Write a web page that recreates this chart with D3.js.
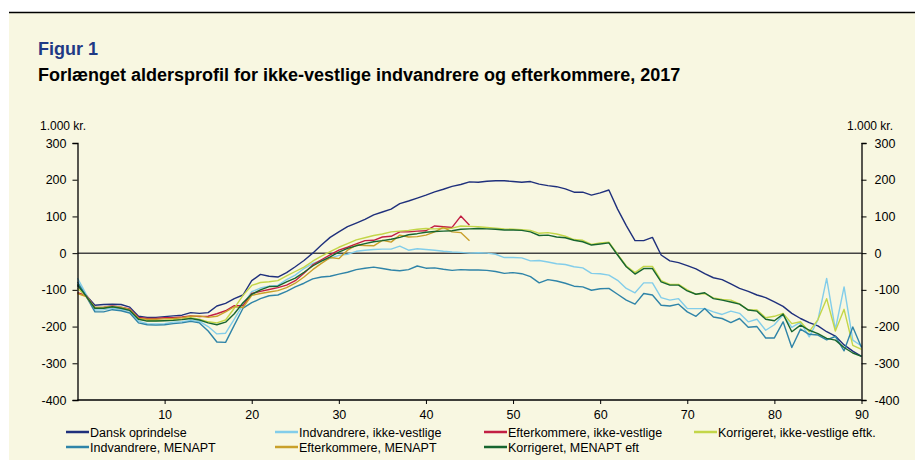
<!DOCTYPE html>
<html><head><meta charset="utf-8">
<script src="https://cdn.jsdelivr.net/npm/d3@7"></script>
<style>
html,body{margin:0;padding:0;background:#fff;}
svg{display:block;font-family:"Liberation Sans",Arial,sans-serif;}
</style></head>
<body>
<svg id="chart" width="915" height="468"></svg>
<script>
const ages = d3.range(0, 91);
const xTicks = [10, 20, 30, 40, 50, 60, 70, 80, 90];
const yTicks = [300, 200, 100, 0, -100, -200, -300, -400];

const danskOprindelse = [-88,-115,-142,-140,-139,-140,-147,-172,-175,-175,-173,-171,-169,-162,-164,-162,-144,-137,-124,-114,-75,-58,-63,-65,-53,-37,-20,0,22,43,58,72,82,92,104,112,120,135,142,150,158,167,174,182,187,194,193,196,197,197,195,193,195,188,184,181,175,166,166,158,164,172,120,75,34,34,43,-5,-21,-26,-34,-43,-56,-67,-72,-84,-96,-104,-114,-121,-133,-145,-164,-178,-189,-198,-214,-226,-250,-267,-281];
const indvIkkeVestlige = [-68,-112,-155,-154,-150,-153,-158,-185,-192,-193,-192,-188,-187,-183,-186,-200,-220,-218,-180,-140,-105,-95,-90,-88,-72,-60,-42,-28,-20,-14,-6,-3,5,8,10,11,11,19,8,12,10,8,5,3,2,0,1,0,-3,-12,-12,-13,-21,-20,-24,-29,-31,-37,-40,-55,-56,-60,-74,-96,-108,-81,-81,-121,-128,-124,-151,-151,-151,-160,-167,-158,-164,-187,-180,-210,-195,-168,-202,-188,-228,-182,-69,-208,-92,-237,-253];
const eftkIkkeVestlige = [-108,-115,-148,-147,-144,-147,-152,-175,-178,-178,-176,-176,-174,-171,-173,-172,-165,-157,-143,-143,-110,-104,-99,-94,-87,-75,-55,-32,-18,-5,8,16,25,34,35,44,46,58,58,60,61,74,72,70,101,76];
const korrIkkeVestlige = [-95,-118,-148,-148,-145,-148,-154,-178,-184,-184,-183,-181,-180,-176,-180,-187,-190,-182,-150,-115,-88,-80,-78,-75,-62,-50,-38,-22,-8,4,16,26,36,42,48,52,58,60,62,65,67,66,67,68,74,73,72,70,68,66,65,64,62,54,56,52,46,37,35,24,28,30,-3,-35,-53,-36,-36,-75,-85,-85,-100,-112,-110,-122,-126,-128,-138,-155,-155,-176,-172,-164,-192,-187,-214,-181,-124,-212,-153,-251,-262];
const indvMenapt = [-78,-118,-160,-160,-154,-157,-163,-190,-195,-196,-195,-192,-190,-186,-190,-212,-242,-243,-196,-150,-135,-124,-116,-114,-104,-92,-82,-70,-65,-63,-57,-52,-45,-41,-38,-42,-46,-48,-45,-35,-41,-40,-44,-47,-45,-46,-46,-47,-50,-55,-53,-56,-64,-81,-72,-76,-82,-90,-92,-101,-97,-96,-112,-128,-139,-110,-114,-142,-144,-139,-160,-172,-151,-174,-178,-189,-178,-202,-200,-231,-231,-187,-257,-207,-221,-223,-236,-227,-266,-201,-257];
const eftkMenapt = [-110,-118,-150,-149,-146,-149,-155,-178,-180,-180,-179,-178,-176,-172,-171,-175,-172,-160,-146,-148,-115,-110,-106,-102,-94,-82,-65,-45,-28,-12,-15,8,22,21,20,35,30,49,44,45,49,58,70,58,56,34];
const korrMenapt = [-85,-118,-150,-150,-146,-150,-156,-180,-185,-185,-184,-183,-181,-178,-182,-190,-195,-188,-165,-135,-112,-100,-91,-90,-78,-68,-52,-35,-22,-10,3,13,20,26,31,34,38,43,50,53,57,59,60,61,65,66,67,66,65,63,63,62,58,48,49,44,42,35,31,22,25,28,-5,-37,-57,-42,-42,-78,-87,-87,-103,-112,-108,-124,-128,-133,-139,-155,-158,-180,-184,-166,-214,-196,-210,-219,-232,-237,-257,-272,-281];

const series = [
  {name: "Dansk oprindelse", values: danskOprindelse, color: "#1f307c"},
  {name: "Indvandrere, ikke-vestlige", values: indvIkkeVestlige, color: "#82cdea"},
  {name: "Efterkommere, ikke-vestlige", values: eftkIkkeVestlige, color: "#c21f43"},
  {name: "Korrigeret, ikke-vestlige eftk.", values: korrIkkeVestlige, color: "#c3d648"},
  {name: "Indvandrere, MENAPT", values: indvMenapt, color: "#2f84a8"},
  {name: "Efterkommere, MENAPT", values: eftkMenapt, color: "#c9a02a"},
  {name: "Korrigeret, MENAPT eft", values: korrMenapt, color: "#17652f"}
];

const svg = d3.select("#chart");
const W = 915, H = 468;

svg.append("rect").attr("x", 0).attr("y", 0).attr("width", W).attr("height", H).attr("fill", "#ffffff");
svg.append("rect").attr("x", 9).attr("y", 13).attr("width", W - 9).attr("height", 447).attr("fill", "#f8f7e1");
svg.append("line").attr("x1", 9).attr("x2", W).attr("y1", 12.5).attr("y2", 12.5).attr("stroke", "#000").attr("stroke-width", 1.5);

svg.append("text").attr("x", 38).attr("y", 55).attr("fill", "#1f3a85").attr("font-weight", "bold").attr("font-size", 18).text("Figur 1");
svg.append("text").attr("x", 38).attr("y", 81).attr("fill", "#000").attr("font-weight", "bold").attr("font-size", 18).text("Forlænget aldersprofil for ikke-vestlige indvandrere og efterkommere, 2017");

const x = d3.scaleLinear().domain([0, 90]).range([77.5, 861.5]);
const y = d3.scaleLinear().domain([-400, 300]).range([400, 143]);

const g = svg.append("g");

g.append("line").attr("x1", x(0)).attr("x2", x(90)).attr("y1", y(0)).attr("y2", y(0)).attr("stroke", "#444").attr("stroke-width", 1.5);

const line = d3.line().x((d, i) => x(ages[i])).y(d => y(d));
series.forEach(s => {
  g.append("path").attr("d", line(s.values)).attr("fill", "none").attr("stroke", s.color).attr("stroke-width", 1.4).attr("stroke-linejoin", "round");
});

const fmt = d => String(d);
const leftAxis = d3.axisLeft(y).tickValues(yTicks).tickSize(5).tickPadding(6).tickFormat(fmt);
const rightAxis = d3.axisRight(y).tickValues(yTicks).tickSize(5).tickPadding(8).tickFormat(fmt);
const bottomAxis = d3.axisBottom(x).tickValues(xTicks).tickSize(4).tickPadding(6).tickFormat(fmt);

function style(sel) {
  sel.select(".domain").attr("stroke", "#000").attr("stroke-width", 1.3);
  sel.selectAll(".tick line").attr("stroke", "#000").attr("stroke-width", 1);
  sel.selectAll("text").attr("font-size", 12.5).attr("fill", "#000").attr("font-family", "Liberation Sans, Arial, sans-serif");
}
g.append("g").attr("transform", `translate(${x(0)},0)`).call(leftAxis).call(style);
g.append("g").attr("transform", `translate(${x(90)},0)`).call(rightAxis).call(style);
const bx = g.append("g").attr("transform", `translate(0,${y(-400)})`).call(bottomAxis).call(style);
bx.select(".domain").attr("d", `M${x(0)},0H${x(90)}`);

svg.append("text").attr("x", 40).attr("y", 130).attr("font-size", 12).text("1.000 kr.");
svg.append("text").attr("x", 893).attr("y", 130).attr("font-size", 12).attr("text-anchor", "end").text("1.000 kr.");

const legCols = [66, 275, 484, 694];
const legRows = [432, 447];
series.forEach((s, i) => {
  const col = i < 4 ? i : i - 4;
  const row = i < 4 ? 0 : 1;
  const lx = legCols[col], ly = legRows[row];
  svg.append("line").attr("x1", lx).attr("x2", lx + 23).attr("y1", ly).attr("y2", ly).attr("stroke", s.color).attr("stroke-width", 2.5);
  svg.append("text").attr("x", lx + 24).attr("y", ly + 4.5).attr("font-size", 12.5).text(s.name);
});
</script>
</body></html>
